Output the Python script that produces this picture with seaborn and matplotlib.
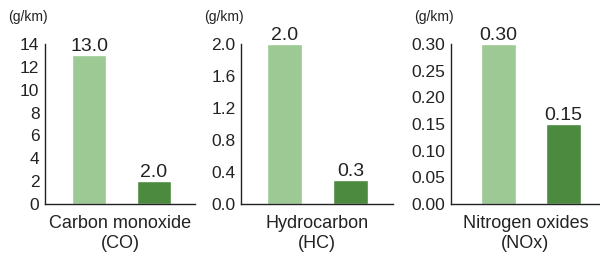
import matplotlib
matplotlib.use("Agg")
import matplotlib.pyplot as plt
import seaborn as sns
import pandas as pd

# ---- data ----
pollutants = ["Carbon monoxide\n(CO)", "Hydrocarbon\n(HC)", "Nitrogen oxides\n(NOx)"]
groups = ["before", "after"]
co_values = [13.0, 2.0]
hc_values = [2.0, 0.3]
nox_values = [0.30, 0.15]
value_labels = [["13.0", "2.0"], ["2.0", "0.3"], ["0.30", "0.15"]]
co_ticks = [0, 2, 4, 6, 8, 10, 12, 14]
hc_ticks = [0.0, 0.4, 0.8, 1.2, 1.6, 2.0]
nox_ticks = [0.00, 0.05, 0.10, 0.15, 0.20, 0.25, 0.30]
tick_formats = ["{:.0f}", "{:.1f}", "{:.2f}"]
unit = "(g/km)"
bar_colors = ["#9cc994", "#4b8a3f"]

sns.set_theme(style="white")
plt.rcParams['font.family'] = ['Liberation Sans', 'DejaVu Sans']
text_color = "#222222"

fig = plt.figure(figsize=(6.0, 2.54), dpi=100)
H = 254.0
W = 600.0
bottom = 1 - 204 / H
height = 160 / H
axes_px = [(45, 150), (241, 152), (451, 149)]
xlims = [(-0.677, 1.63), (-0.66, 1.64), (-0.73, 1.56)]
all_values = [co_values, hc_values, nox_values]
all_ticks = [co_ticks, hc_ticks, nox_ticks]

for i in range(3):
    left, width = axes_px[i]
    ax = fig.add_axes([left / W, bottom, width / W, height])
    df = pd.DataFrame({"group": groups, "value": all_values[i]})
    sns.barplot(data=df, x="group", y="value", hue="group", palette=bar_colors,
                width=0.53, ax=ax, legend=False, saturation=1)
    ax.set_xlim(*xlims[i])
    ticks = all_ticks[i]
    ax.set_ylim(0, ticks[-1])
    ax.set_yticks(ticks)
    ax.set_yticklabels([tick_formats[i].format(t) for t in ticks])
    ax.set_xticks([])
    ax.set_ylabel("")
    ax.set_xlabel(pollutants[i], fontsize=13, color=text_color, labelpad=8,
                  linespacing=1.2)
    for s in ["top", "right"]:
        ax.spines[s].set_visible(False)
    for s in ["left", "bottom"]:
        ax.spines[s].set_color("#222222")
        ax.spines[s].set_linewidth(1.0)
    ax.tick_params(axis="y", direction="out", length=3, width=0.8, pad=1,
                   labelsize=12.5, colors=text_color)
    for k, container in enumerate(ax.containers):
        ax.bar_label(container, labels=[value_labels[i][k]],
                     padding=0, fontsize=14, color=text_color)
    ax.text(3 / width, (204 - 17) / 160, unit, transform=ax.transAxes,
            ha="right", va="center", fontsize=10, color=text_color)
    ax.patch.set_alpha(0)

fig.savefig("out.png", dpi=100)
